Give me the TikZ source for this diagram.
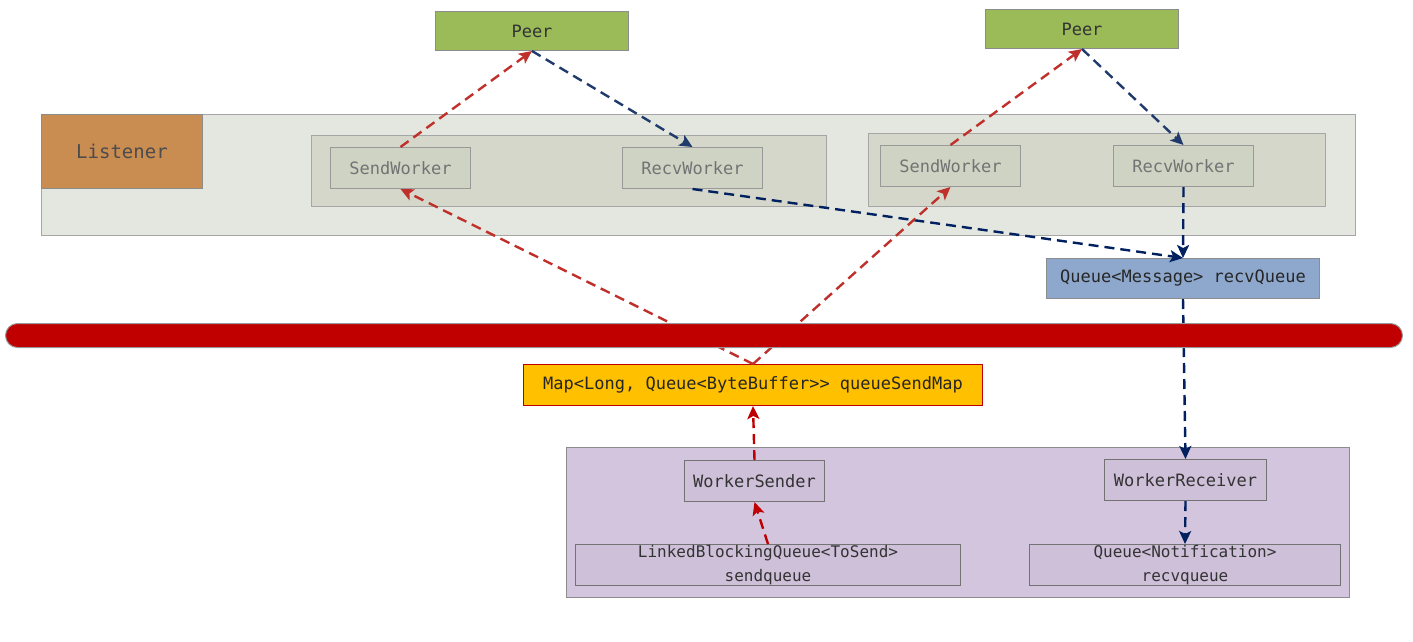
\documentclass[tikz,border=0pt]{standalone}
\usepackage{fontspec}
\setmonofont{DejaVu Sans Mono}
\usetikzlibrary{arrows.meta}
\definecolor{peerG}{HTML}{9BBB59}
\definecolor{lisbg}{HTML}{E4E7E0}
\definecolor{lisor}{HTML}{C98C51}
\definecolor{grpbg}{HTML}{D4D7C9}
\definecolor{wkbg}{HTML}{CFD3C4}
\definecolor{qblue}{HTML}{8EA8CD}
\definecolor{barred}{HTML}{C00000}
\definecolor{mapy}{HTML}{FFC000}
\definecolor{purp}{HTML}{D3C5DD}
\definecolor{purpin}{HTML}{CFC0DA}
\definecolor{redA}{HTML}{C00000}
\definecolor{redB}{HTML}{C0302B}
\definecolor{navyA}{HTML}{002060}
\definecolor{navyB}{HTML}{1F3A6B}
\definecolor{bord}{HTML}{8C8C8C}
\tikzset{
  box/.style={draw=bord, line width=1pt, inner sep=0pt, anchor=north west, font=\ttfamily\fontsize{17}{20}\selectfont, align=center},
  tipst/.style={-{Stealth[length=13pt,width=12pt,inset=3pt]}},
  redarr/.style={draw=redA, dash pattern=on 10pt off 6pt, line width=2.4pt, tipst},
  redarrB/.style={redarr, draw=redB},
  navarr/.style={draw=navyA, dash pattern=on 10pt off 6pt, line width=2.4pt, tipst},
  navarrB/.style={navarr, draw=navyB},
}
\begin{document}
\begin{tikzpicture}[x=1pt,y=-1pt]
\useasboundingbox (0,0) rectangle (1413,641);
% Peers
\node[box, fill=peerG, text=black!80, minimum width=193pt, minimum height=39pt] (peer1) at (435,11) {Peer};
\node[box, fill=peerG, text=black!80, minimum width=193pt, minimum height=39pt] (peer2) at (985,9) {Peer};
% Listener
\node[box, draw=black!35, fill=lisbg, minimum width=1314pt, minimum height=121pt] (lis) at (41,114) {};
\node[box, fill=lisor, text=black!70, minimum width=161pt, minimum height=74pt] (lislbl) at (41,114) {\fontsize{19}{22}\selectfont Listener};
\node[box, draw=black!35, fill=grpbg, minimum width=515pt, minimum height=71pt] (g1) at (311,135) {};
\node[box, draw=black!35, fill=grpbg, minimum width=457pt, minimum height=73pt] (g2) at (868,133) {};
\node[box, draw=black!40, fill=wkbg, text=black!55, minimum width=140pt, minimum height=41pt] (sw1) at (330,147) {SendWorker};
\node[box, draw=black!40, fill=wkbg, text=black!55, minimum width=140pt, minimum height=41pt] (rw1) at (622,147) {RecvWorker};
\node[box, draw=black!40, fill=wkbg, text=black!55, minimum width=140pt, minimum height=41pt] (sw2) at (880,145) {SendWorker};
\node[box, draw=black!40, fill=wkbg, text=black!55, minimum width=140pt, minimum height=41pt] (rw2) at (1113,145) {RecvWorker};
% recvQueue
\node[box, fill=qblue, text=black!85, minimum width=273pt, minimum height=40pt] (rq) at (1046,258) {Queue<Message> recvQueue};
% Map
\node[box, draw=redA, fill=mapy, text=black!85, minimum width=459pt, minimum height=41pt] (map) at (523,364) {Map<Long, Queue<ByteBuffer>{}> queueSendMap};
% bottom group
\node[box, draw=black!45, fill=purp, minimum width=783pt, minimum height=150pt] (fle) at (566,447) {};
\node[box, draw=black!55, fill=purpin, text=black!80, minimum width=140pt, minimum height=41pt] (ws) at (684,460) {WorkerSender};
\node[box, draw=black!55, fill=purpin, text=black!80, minimum width=162pt, minimum height=41pt] (wr) at (1104,459) {WorkerReceiver};
\node[box, draw=black!55, fill=purpin, text=black!80, minimum width=385pt, minimum height=41pt, font=\ttfamily\fontsize{16}{24}\selectfont] (sq) at (575,544) {LinkedBlockingQueue<ToSend>\\sendqueue};
\node[box, draw=black!55, fill=purpin, text=black!80, minimum width=311pt, minimum height=41pt, font=\ttfamily\fontsize{16}{24}\selectfont] (nq) at (1029,544) {Queue<Notification>\\recvqueue};
% arrows
\draw[redarrB] (sw1.north) -- (peer1.south);
\draw[redarrB] (sw2.north) -- (peer2.south);
\draw[navarrB] (peer1.south) -- (rw1.north);
\draw[navarrB] (peer2.south) -- (rw2.north);
\draw[navarr] (rw1.south) -- (rq.north);
\draw[navarr] (rw2.south) -- (rq.north);
\draw[navarr] (rq.south) -- (wr.north);
\draw[navarr] (wr.south) -- (nq.north);
\draw[redarrB] (map.north) -- (sw1.south);
\draw[redarrB] (map.north) -- (sw2.south);
\draw[redarr] (ws.north) -- (map.south);
\draw[redarr] (sq.north) -- (ws.south);
% red bar
\node[draw=black!40, line width=1pt, fill=barred, rounded corners=12pt, minimum width=1397pt, minimum height=24pt, inner sep=0pt, anchor=north west] (bar) at (5,323) {};
\end{tikzpicture}
\end{document}
